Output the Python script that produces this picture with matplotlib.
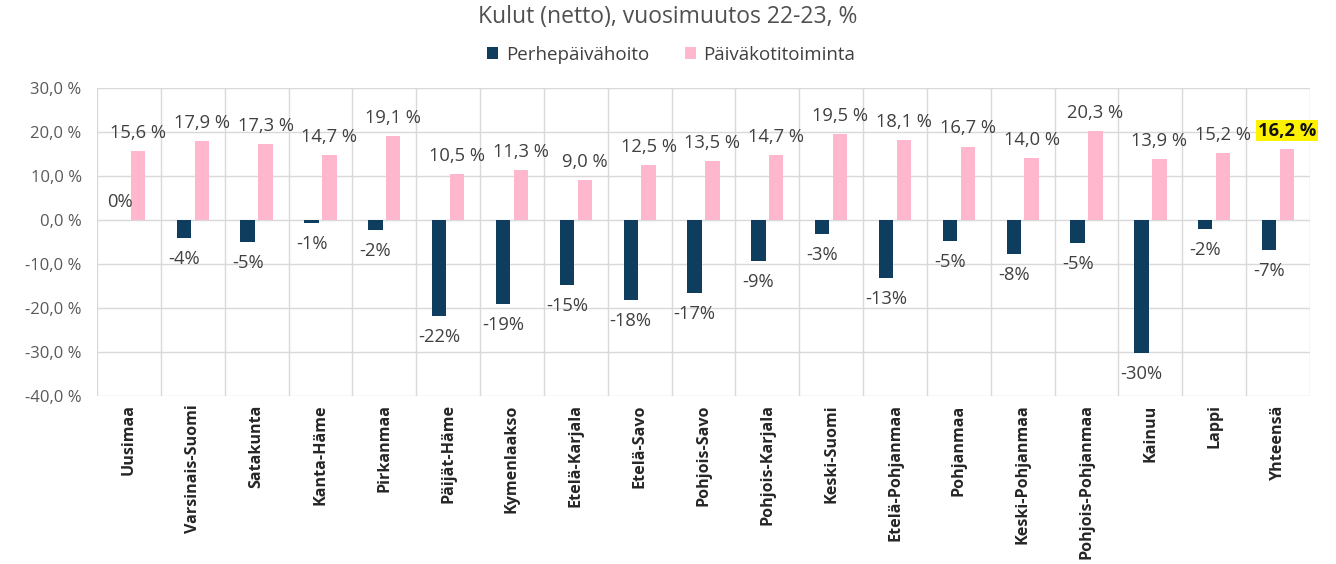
import matplotlib.pyplot as plt
import numpy as np

# data
regions = ['Uusimaa', 'Varsinais-Suomi', 'Satakunta', 'Kanta-Häme', 'Pirkanmaa',
           'Päijät-Häme', 'Kymenlaakso', 'Etelä-Karjala', 'Etelä-Savo', 'Pohjois-Savo',
           'Pohjois-Karjala', 'Keski-Suomi', 'Etelä-Pohjanmaa', 'Pohjanmaa',
           'Keski-Pohjanmaa', 'Pohjois-Pohjanmaa', 'Kainuu', 'Lappi', 'Yhteensä']
perhe = [0.1, -4.1, -5.0, -0.7, -2.2, -21.8, -19.1, -14.8, -18.2, -16.6,
         -9.3, -3.2, -13.2, -4.8, -7.7, -5.2, -30.2, -2.0, -6.8]
paivakoti = [15.6, 17.9, 17.3, 14.7, 19.1, 10.5, 11.3, 9.0, 12.5, 13.5,
             14.7, 19.5, 18.1, 16.7, 14.0, 20.3, 13.9, 15.2, 16.2]

navy = '#0F3D5E'
pink = '#FFB7CE'
grid_col = '#D9D9D9'
txt_col = '#404040'

plt.rcParams['font.family'] = ['Open Sans', 'DejaVu Sans']

fig = plt.figure(figsize=(13.36, 5.64), dpi=100)
ax = fig.add_axes([97/1336, 168/564, (1310-97)/1336, (396-88)/564])

x = np.arange(len(regions))
w = 0.225
off = 0.14
b1 = ax.bar(x - off, perhe, w, color=navy, label='Perhepäivähoito', zorder=3)
b2 = ax.bar(x + off, paivakoti, w, color=pink, label='Päiväkotitoiminta', zorder=3)

ax.set_xlim(-0.5, len(regions) - 0.5)
ax.set_ylim(-40, 30)
yt = np.arange(-40, 31, 10)
ax.set_yticks(yt)
ax.set_yticklabels([('%.1f %%' % v).replace('.', ',') for v in yt], color='#595959', fontsize=12)
ax.set_xticks(x)
ax.set_xticklabels(regions, rotation=90, fontweight='bold', fontsize=11.6, color='#262626')
ax.tick_params(axis='y', length=0, pad=11)
ax.tick_params(axis='x', length=0, pad=6)

# grid: horizontal at ticks, vertical between categories
for yv in yt:
    ax.axhline(yv, color=grid_col, lw=1, zorder=1)
for xv in np.arange(-0.5, len(regions), 1):
    ax.axvline(xv, color=grid_col, lw=1, zorder=1)
for s in ax.spines.values():
    s.set_visible(False)

# value labels
for xi, v in zip(x, perhe):
    lab = '%d%%' % round(v)
    dy = 13 if v >= 0 else -15
    ax.annotate(lab, (xi - off, v), xytext=(0, dy), textcoords='offset points',
                ha='center', va='center', fontsize=13.2, color=txt_col)
for i, (xi, v) in enumerate(zip(x, paivakoti)):
    lab = ('%.1f %%' % v).replace('.', ',')
    if i == len(regions) - 1:
        ax.annotate(lab, (xi + off, v), xytext=(0, 13), textcoords='offset points',
                    ha='center', va='center', fontsize=13.2, color='#111111', fontweight='bold',
                    bbox=dict(boxstyle='square,pad=0.1', fc='#FFF200', ec='none'))
    else:
        ax.annotate(lab, (xi + off, v), xytext=(0, 13), textcoords='offset points',
                    ha='center', va='center', fontsize=13.2, color=txt_col)

fig.text(668/1336, 1 - 17/564, 'Kulut (netto), vuosimuutos 22-23, %', ha='center', va='center',
         fontsize=16.5, color='#505050')
fig.legend(handles=[b1, b2], loc='center', bbox_to_anchor=(671/1336, 1 - 55/564), ncol=2,
           frameon=False, fontsize=13.5, handlelength=0.6, handleheight=0.6,
           handletextpad=0.4, columnspacing=1.9, labelcolor=txt_col)

fig.savefig('out.png', dpi=100)
